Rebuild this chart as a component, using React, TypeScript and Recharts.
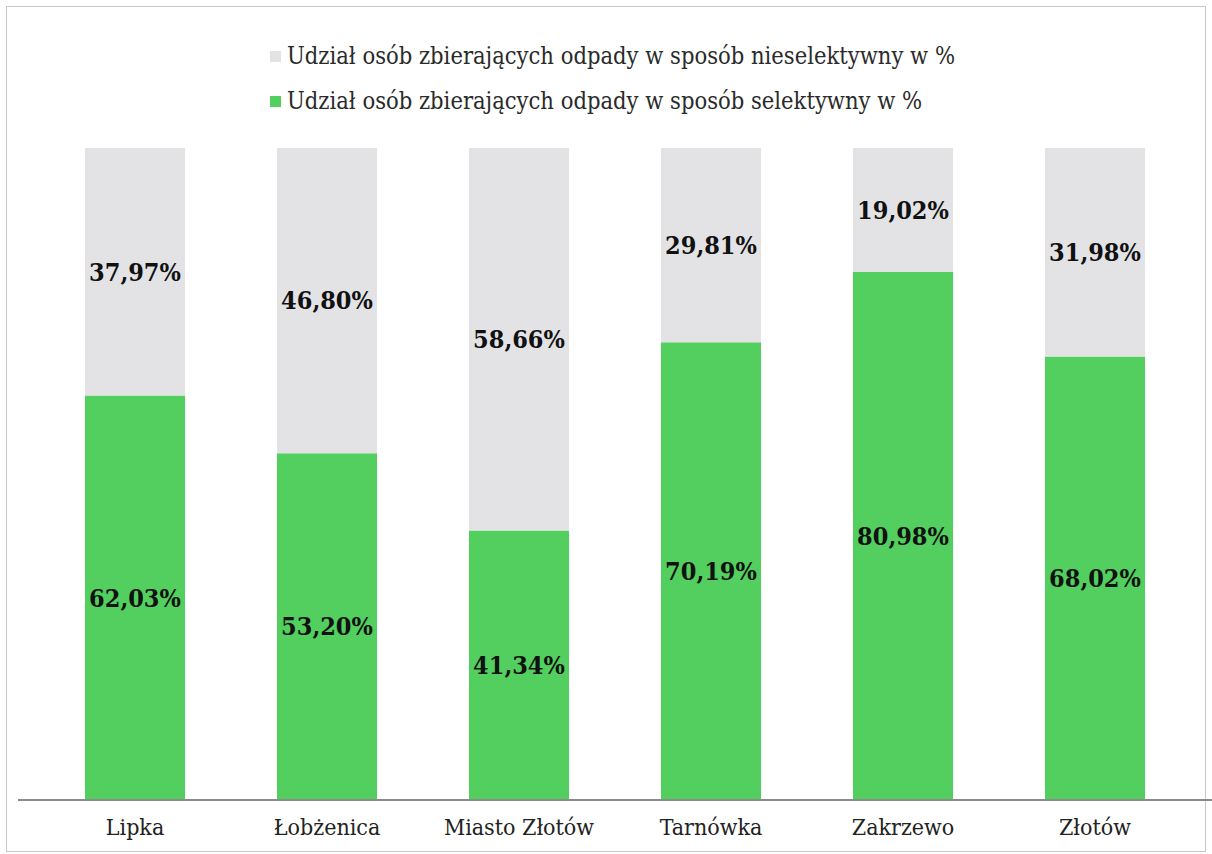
import React from "react";
import { BarChart, Bar, XAxis, YAxis, LabelList } from "recharts";

const categories = ["Lipka", "Łobżenica", "Miasto Złotów", "Tarnówka", "Zakrzewo", "Złotów"];
const selective = [62.03, 53.2, 41.34, 70.19, 80.98, 68.02];
const nonSelective = [37.97, 46.8, 58.66, 29.81, 19.02, 31.98];
const legendLabels = [
  "Udział osób zbierających odpady w sposób nieselektywny w %",
  "Udział osób zbierających odpady w sposób selektywny w %",
];

const GREEN = "#52cf5e";
const GRAY = "#e3e3e6";
const FONT = "'DejaVu Serif Condensed', 'DejaVu Serif', serif";

const data = categories.map((name, i) => ({
  name,
  selective: selective[i],
  nonSelective: nonSelective[i],
}));

const fmt = (v: any) => `${Number(v).toFixed(2).replace(".", ",")}%`;

const LegendBox = () => (
  <div
    style={{
      position: "absolute",
      left: 270,
      top: 34,
      fontFamily: FONT,
      fontSize: 23.5,
      color: "#2a2a2a",
      lineHeight: "45px",
    }}
  >
    {[GRAY, GREEN].map((c, i) => (
      <div key={i} style={{ display: "flex", alignItems: "center" }}>
        <span style={{ display: "inline-block", width: 11, height: 11, background: c, marginRight: 6 }} />
        <span>{legendLabels[i]}</span>
      </div>
    ))}
  </div>
);

export default function App() {
  return (
    <div style={{ position: "absolute", left: 0, top: 0, width: 1212, height: 854, background: "#fff", fontFamily: FONT }}>
      <div
        style={{
          position: "absolute",
          left: 6,
          top: 6,
          width: 1200,
          height: 846,
          border: "1px solid #c8c8c8",
          boxSizing: "border-box",
        }}
      />
      <BarChart
        width={1212}
        height={854}
        data={data}
        margin={{ top: 148, right: 0, bottom: 0, left: 18 }}
        barSize={100}
        style={{ fontFamily: FONT }}
      >
        <XAxis
          dataKey="name"
          height={54}
          padding={{ left: 21, right: 21 }}
          axisLine={{ stroke: "#8a8a8a", strokeWidth: 2 }}
          tickLine={false}
          tickSize={0}
          tickMargin={19}
          tick={{ fontFamily: FONT, fontSize: 23, fill: "#222" }}
          interval={0}
        />
        <YAxis hide domain={[0, 100]} type="number" />
        <Bar dataKey="selective" stackId="a" fill={GREEN} isAnimationActive={false}>
          <LabelList
            dataKey="selective"
            position="center"
            formatter={fmt}
            fontFamily={FONT}
            fontSize={25}
            fontWeight="bold"
            fill="#111"
          />
        </Bar>
        <Bar dataKey="nonSelective" stackId="a" fill={GRAY} isAnimationActive={false}>
          <LabelList
            dataKey="nonSelective"
            position="center"
            formatter={fmt}
            fontFamily={FONT}
            fontSize={25}
            fontWeight="bold"
            fill="#111"
          />
        </Bar>
      </BarChart>
      <LegendBox />
    </div>
  );
}
